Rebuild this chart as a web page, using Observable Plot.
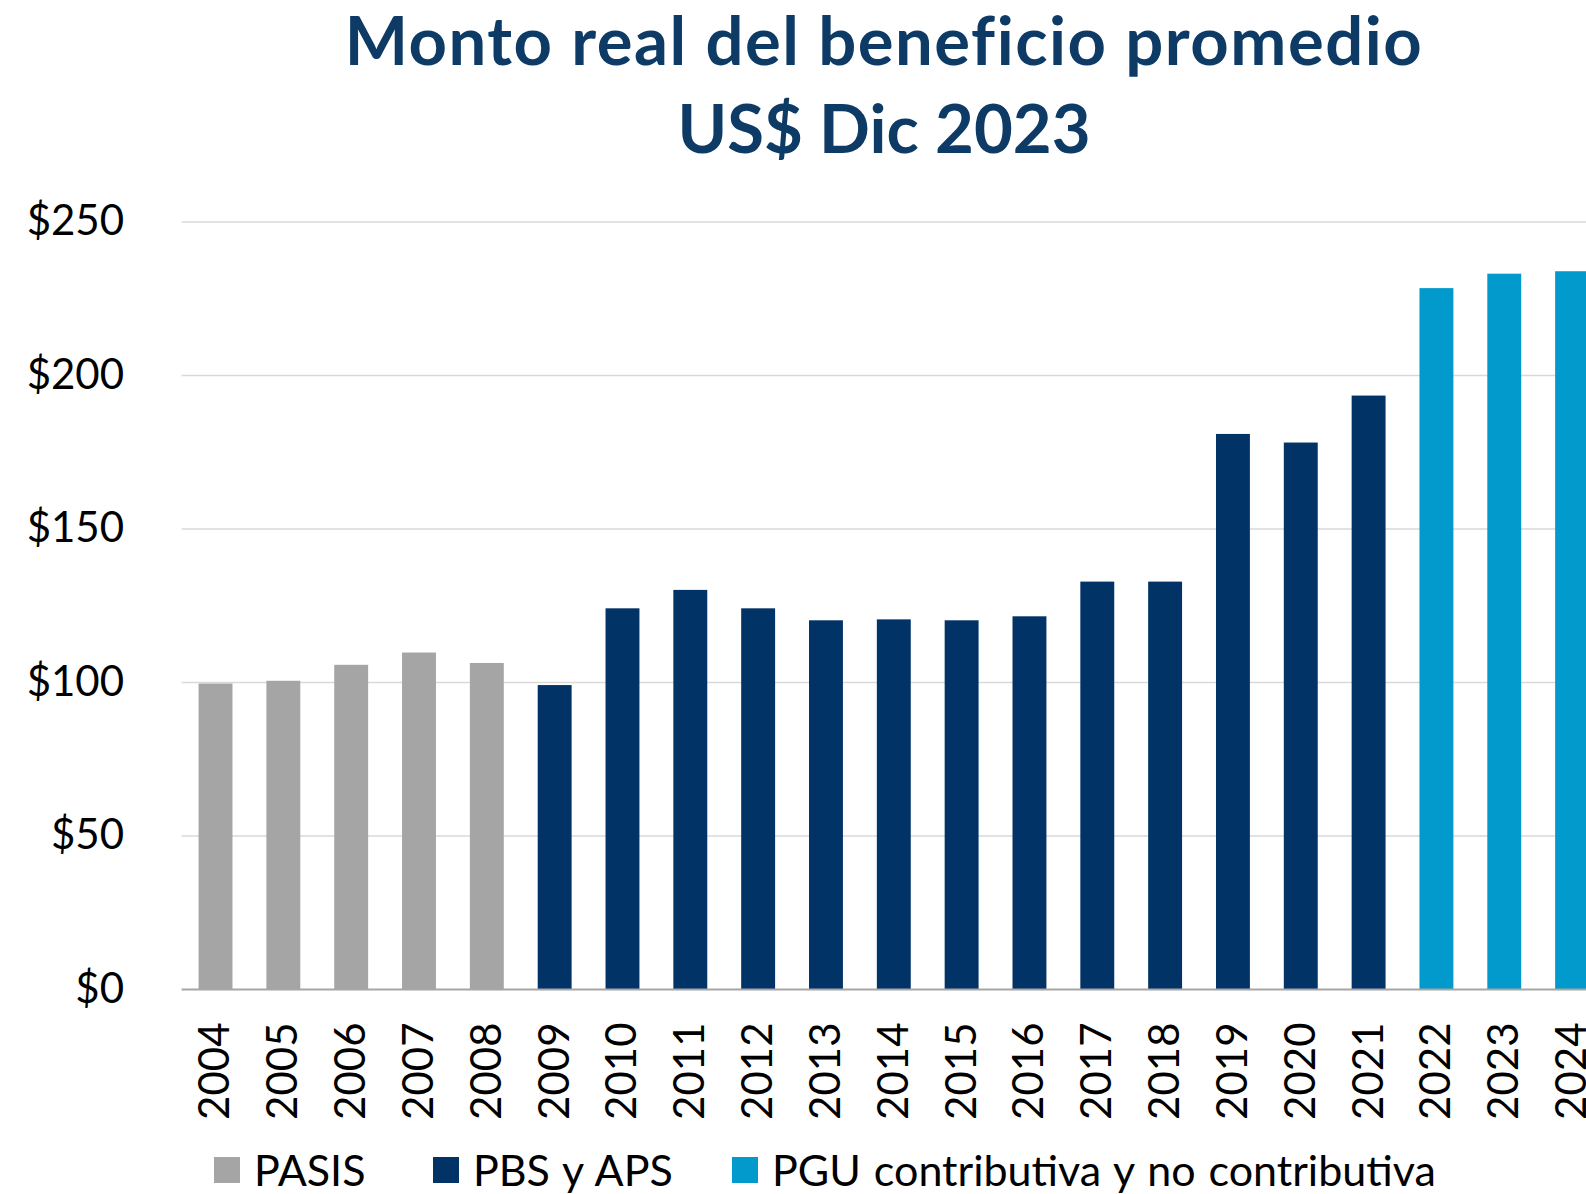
<!DOCTYPE html>
<html><head><meta charset="utf-8">
<script src="https://cdn.jsdelivr.net/npm/d3@7"></script>
<script src="https://cdn.jsdelivr.net/npm/@observablehq/plot@0.6"></script>
<style>
html,body{margin:0;padding:0;background:#fff;overflow:hidden;width:1586px;height:1194px;position:relative;font-family:Lato,"Open Sans",sans-serif;}
#title{position:absolute;left:182px;top:-5px;width:1404px;text-align:center;color:#0d3b66;font-weight:700;font-size:67px;line-height:88px;white-space:nowrap;}
#title .l1{letter-spacing:1.5px;}
#chart{position:absolute;left:0;top:170px;width:1606px;}
#chart svg{max-width:none !important;}
.lg{position:absolute;top:1147px;height:46px;line-height:46px;display:flex;align-items:center;font-size:43px;color:#000;white-space:nowrap;}
.lg span.sw{display:inline-block;width:26px;height:26px;margin-right:14px;}
.lg span.tx{word-spacing:2px;}
</style></head>
<body>
<div id="title"><span class="l1">Monto real del beneficio promedio</span><br>US$ Dic 2023</div>
<div id="chart"></div>
<div id="legend"></div>
<script>
const years = ["2004","2005","2006","2007","2008","2009","2010","2011","2012","2013","2014","2015","2016","2017","2018","2019","2020","2021","2022","2023","2024"];
const values = [99.5,100.4,105.6,109.6,106.2,99.0,124.0,130.0,124.0,120.1,120.4,120.1,121.4,132.7,132.7,180.8,178.0,193.3,228.3,233.0,233.8];
const programs = ["PASIS","PASIS","PASIS","PASIS","PASIS","PBS y APS","PBS y APS","PBS y APS","PBS y APS","PBS y APS","PBS y APS","PBS y APS","PBS y APS","PBS y APS","PBS y APS","PBS y APS","PBS y APS","PBS y APS","PGU contributiva y no contributiva","PGU contributiva y no contributiva","PGU contributiva y no contributiva"];
const seriesNames = ["PASIS","PBS y APS","PGU contributiva y no contributiva"];
const seriesColors = ["#a5a5a5","#023366","#029acc"];
const yTicks = [0,50,100,150,200,250];

const data = years.map((y,i)=>({year:y, value:values[i], program:programs[i]}));

const chart = Plot.plot({
  width:1606, height:954,
  marginLeft:181.6, marginRight:0, marginTop:51.5, marginBottom:135,
  style:{fontFamily:"Lato, 'Open Sans', sans-serif", fontSize:"42px", color:"#000", background:"#fff", overflow:"visible", maxWidth:"none"},
  x:{domain:years, paddingInner:0.5, paddingOuter:0.25, round:false, label:null},
  y:{domain:[0,250], label:null},
  color:{domain:seriesNames, range:seriesColors},
  marks:[
    Plot.gridY(yTicks.filter(d=>d>0), {stroke:"#d9d9d9", strokeOpacity:1, strokeWidth:1.5}),
    Plot.barY(data, {x:"year", y:"value", fill:"program"}),
    Plot.ruleY([0], {stroke:"#a6a6a6", strokeWidth:2}),
    Plot.axisY({ticks:yTicks, tickFormat:d=>"$"+d, tickSize:0, tickPadding:58, fontSize:42, label:null}),
    Plot.axisX({tickSize:0, tickRotate:-90, tickPadding:33, fontSize:42, label:null})
  ]
});
document.getElementById("chart").appendChild(chart);

const lefts = [214,433,732];
const lg = document.getElementById("legend");
seriesNames.forEach((n,i)=>{
  const d = document.createElement("div");
  d.className="lg"; d.style.left=lefts[i]+"px";
  d.innerHTML = `<span class="sw" style="background:${seriesColors[i]}"></span><span class="tx">${n}</span>`;
  lg.appendChild(d);
});
</script>
</body></html>
